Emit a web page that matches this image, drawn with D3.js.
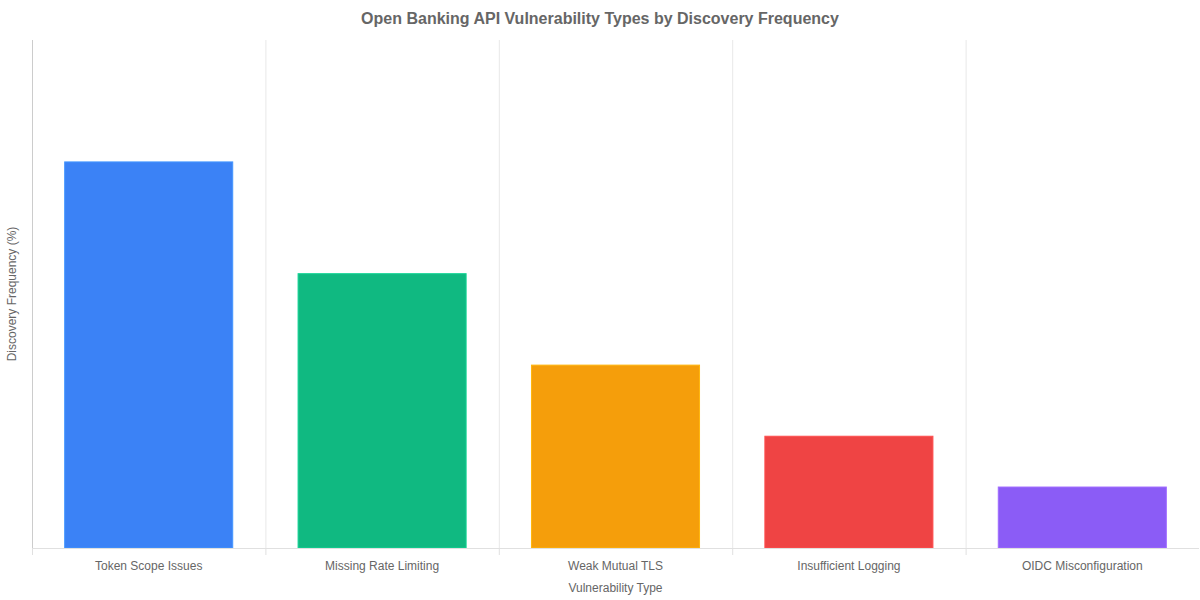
<!DOCTYPE html>
<html>
<head>
<meta charset="utf-8">
<script src="https://cdn.jsdelivr.net/npm/d3@7"></script>
<style>
  body { margin: 0; background: #fff; }
  text { font-family: "Helvetica Neue", Helvetica, Arial, "Liberation Sans", sans-serif; }
</style>
</head>
<body>
<svg class="chart"></svg>
<script>
const categories = ['Token Scope Issues', 'Missing Rate Limiting', 'Weak Mutual TLS', 'Insufficient Logging', 'OIDC Misconfiguration'];
const values = [38, 27, 18, 11, 6];
const colors = ['#3b82f6', '#10b981', '#f59e0b', '#ef4444', '#8b5cf6'];

const width = 1200;
const height = 600;
const margin = {top: 40, right: 1, bottom: 52, left: 32};

const svg = d3.select('.chart').attr('width', width).attr('height', height);

const x = d3.scaleBand()
    .domain(categories)
    .range([margin.left, width - margin.right])
    .paddingInner(0)
    .paddingOuter(0);

const y = d3.scaleLinear()
    .domain([0, 50])
    .range([height - margin.bottom, margin.top]);

// vertical split lines at category boundaries
svg.append('g')
    .selectAll('line')
    .data(categories.slice(1))
    .join('line')
    .attr('x1', d => x(d) + 0.5)
    .attr('x2', d => x(d) + 0.5)
    .attr('y1', margin.top)
    .attr('y2', y(0))
    .attr('stroke', '#e8e8e8');

// y axis line
svg.append('line')
    .attr('x1', margin.left + 0.5).attr('x2', margin.left + 0.5)
    .attr('y1', margin.top).attr('y2', y(0))
    .attr('stroke', '#cccccc');

// bars
svg.append('g')
    .selectAll('rect')
    .data(values)
    .join('rect')
    .attr('x', (d, i) => x(categories[i]) + x.bandwidth() * 0.14)
    .attr('width', x.bandwidth() * 0.72)
    .attr('y', d => y(d))
    .attr('height', d => y(0) - y(d))
    .attr('fill', (d, i) => colors[i])
    .attr('stroke', (d, i) => d3.color(colors[i]).brighter(0.4))
    .attr('stroke-width', 1);

// x axis
const xAxis = svg.append('g')
    .attr('transform', `translate(0,${y(0)})`);

xAxis.append('line')
    .attr('x1', margin.left).attr('x2', width - margin.right)
    .attr('y1', 0.5).attr('y2', 0.5)
    .attr('stroke', '#e0e0e0');

xAxis.selectAll('.tick')
    .data(categories)
    .join('line')
    .attr('class', 'tick')
    .attr('x1', d => x(d) + 0.5)
    .attr('x2', d => x(d) + 0.5)
    .attr('y1', 0)
    .attr('y2', 7)
    .attr('stroke', '#e0e0e0');

xAxis.selectAll('.lbl')
    .data(categories)
    .join('text')
    .attr('class', 'lbl')
    .attr('x', d => x(d) + x.bandwidth() / 2)
    .attr('y', 22)
    .attr('text-anchor', 'middle')
    .attr('font-size', 12)
    .attr('fill', '#666')
    .text(d => d);

// axis titles
svg.append('text')
    .attr('x', (margin.left + width - margin.right) / 2)
    .attr('y', 592)
    .attr('text-anchor', 'middle')
    .attr('font-size', 12)
    .attr('fill', '#666')
    .text('Vulnerability Type');

svg.append('text')
    .attr('transform', `translate(16,${(margin.top + y(0)) / 2}) rotate(-90)`)
    .attr('text-anchor', 'middle')
    .attr('font-size', 12)
    .attr('fill', '#666')
    .text('Discovery Frequency (%)');

// title
svg.append('text')
    .attr('x', width / 2)
    .attr('y', 24)
    .attr('text-anchor', 'middle')
    .attr('font-size', 16)
    .attr('font-weight', 'bold')
    .attr('fill', '#666')
    .text('Open Banking API Vulnerability Types by Discovery Frequency');
</script>
</body>
</html>
